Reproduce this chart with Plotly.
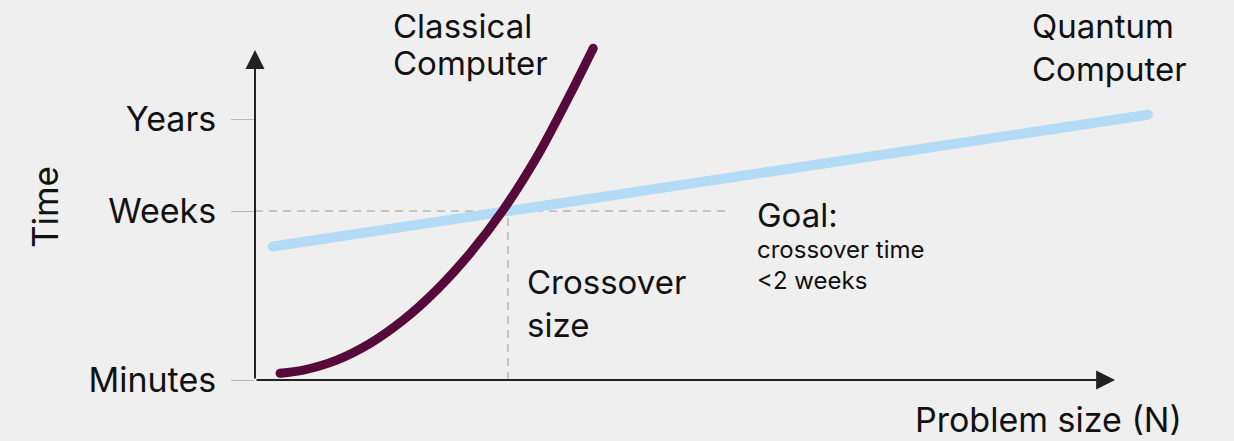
import plotly.graph_objects as go

# problem size in units of the crossover size; time on a rough level scale (Minutes=0, Weeks=1)
classical_n = [0.099, 0.191, 0.323, 0.455, 0.586, 0.718, 0.850, 0.981, 1.126, 1.258, 1.337]
classical_t = [0.040, 0.059, 0.118, 0.217, 0.355, 0.533, 0.750, 1.006, 1.351, 1.726, 1.963]

quantum_n = [0.07, 3.53]
quantum_t = [0.79, 1.57]

time_levels = [0, 1, 1.544]
time_labels = ["Minutes", "Weeks", "Years"]

crossover_n = 1.0
goal_t = 1.0

FONT = "Inter"
BG = "#efefef"
INK = "#111111"
MAROON = "#560a3a"
SKY = "#b4dbf6"

fig = go.Figure()

fig.add_trace(go.Scatter(x=quantum_n, y=quantum_t, mode="lines+markers",
                         line=dict(color=SKY, width=10),
                         marker=dict(size=10, color=SKY),
                         hoverinfo="skip"))
fig.add_trace(go.Scatter(x=classical_n, y=classical_t, mode="lines",
                         line=dict(color=MAROON, width=9, shape="spline", smoothing=0.8),
                         hoverinfo="skip"))
# round caps on the classical curve
fig.add_trace(go.Scatter(x=[classical_n[0], classical_n[-1]], y=[classical_t[0], classical_t[-1]],
                         mode="markers", marker=dict(size=9, color=MAROON), hoverinfo="skip"))

# dashed guides
guide = dict(color="#9e9e9e", width=1, dash="8px,6px")
fig.add_shape(type="line", x0=0, x1=1.877, y0=goal_t, y1=goal_t, line=guide, layer="below")
fig.add_shape(type="line", x0=crossover_n, x1=crossover_n, y0=0, y1=goal_t, line=guide, layer="below")

# axis arrows
arrow = dict(xref="x", yref="y", axref="x", ayref="y", showarrow=True,
             arrowhead=2, arrowsize=1.9, arrowwidth=2, arrowcolor="#222222", text="")
fig.add_annotation(x=3.40, y=0, ax=0, ay=0, **arrow)
fig.add_annotation(x=0, y=1.953, ax=0, ay=0, **arrow)


def label(x, y, text, size=33):
    fig.add_annotation(x=x, y=y, text=text, showarrow=False, xref="x", yref="y",
                       xanchor="left", yanchor="middle", align="left",
                       font=dict(family=FONT, size=size, color=INK))


label(0.538, 2.095, "Classical")
label(0.538, 1.879, "Computer")
label(3.063, 2.095, "Quantum")
label(3.063, 1.843, "Computer")
label(1.067, 0.450, "Crossover<br>size")
label(1.976, 0.80,
      "<span style='font-size:33px'>Goal:</span><br>crossover time<br><2 weeks", 24)

fig.add_annotation(x=0.672, y=-0.105, text="Problem size (N)", showarrow=False,
                   xref="paper", yref="paper", xanchor="left", yanchor="middle",
                   font=dict(family=FONT, size=34, color=INK))
fig.add_annotation(x=-0.2145, y=0.455, text="Time", textangle=-90, showarrow=False,
                   xref="paper", yref="paper", xanchor="center", yanchor="middle",
                   font=dict(family=FONT, size=35, color=INK))

fig.update_xaxes(range=[0, 3.870], visible=False)
fig.update_yaxes(range=[0, 2.249], tickvals=time_levels, ticktext=time_labels,
                 showgrid=False, zeroline=False, showline=False,
                 ticks="outside", ticklen=23, tickwidth=1, tickcolor="#bbbbbb",
                 ticklabelstandoff=8,
                 tickfont=dict(family=FONT, size=34, color=INK))

fig.update_layout(width=1234, height=441, showlegend=False,
                  paper_bgcolor=BG, plot_bgcolor=BG,
                  margin=dict(l=255, r=0, t=0, b=61))

fig.write_html("out.html", config={"displayModeBar": False},
               post_script="document.body.style.margin='0';document.body.style.overflow='hidden';")
